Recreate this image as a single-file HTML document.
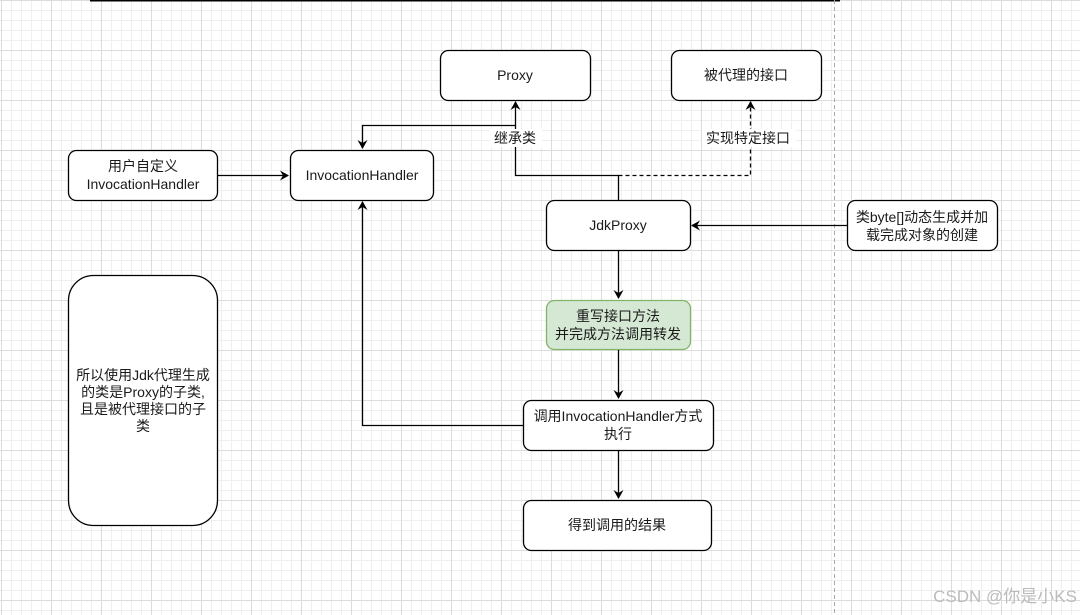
<!DOCTYPE html>
<html><head><meta charset="utf-8"><style>
body{margin:0;width:1080px;height:615px;overflow:hidden;background:#fff;}
.g{position:absolute;left:0;top:0;width:1080px;height:615px;
background-image:linear-gradient(#dcdcdc 1px,transparent 1px),linear-gradient(90deg,#dcdcdc 1px,transparent 1px),linear-gradient(#efefef 1px,transparent 1px),linear-gradient(90deg,#efefef 1px,transparent 1px);
background-size:50px 50px,50px 50px,10px 10px,10px 10px;background-position:0 0,1px 0,0 0,1px 0;}
svg{position:absolute;left:0;top:0;}
text{font-family:"Liberation Sans","Noto Sans CJK SC",sans-serif;font-size:14px;fill:#1a1a1a;text-anchor:middle;}
</style></head><body>
<div class="g"></div>
<svg width="1080" height="615" viewBox="0 0 1080 615">
<defs><marker id="a" markerWidth="10" markerHeight="10" refX="8" refY="5" orient="auto" markerUnits="userSpaceOnUse"><path d="M0,0 L9,5 L0,10 L3,5 Z" fill="#000"/></marker></defs>
<line x1="90" y1="0.5" x2="840" y2="0.5" stroke="#000" stroke-width="2"/>
<line x1="834.5" y1="0" x2="834.5" y2="615" stroke="#aaa" stroke-dasharray="4,3"/>
<g fill="#fff" stroke="#000" stroke-width="1.3">
<rect x="440.5" y="50.5" width="150" height="50" rx="8"/>
<rect x="671.5" y="50.5" width="150" height="50" rx="8"/>
<rect x="68.5" y="150.5" width="149" height="50" rx="8"/>
<rect x="290.5" y="150.5" width="143" height="50" rx="8"/>
<rect x="546.5" y="200.5" width="144" height="50" rx="8"/>
<rect x="847.5" y="200.5" width="150" height="50" rx="8"/>
<rect x="546.5" y="300.5" width="144" height="49" rx="8" fill="#d5e8d4" stroke="#82b366"/>
<rect x="523.5" y="400.5" width="190" height="50" rx="8"/>
<rect x="523.5" y="500.5" width="188" height="50" rx="8"/>
<rect x="68.5" y="275.5" width="149" height="250" rx="25"/>
</g>
<g fill="none" stroke="#000" stroke-width="1.3">
<path d="M618.5 200 V175.5 H515.5 V102" marker-end="url(#a)"/>
<path d="M515.5 125.5 H362.5 V148" marker-end="url(#a)"/>
<path d="M618.5 175.5 H750.5 V102" stroke-dasharray="4,3" marker-end="url(#a)"/>
<path d="M217 175.5 H288" marker-end="url(#a)"/>
<path d="M847 225.5 H692" marker-end="url(#a)"/>
<path d="M618.5 250 V298" marker-end="url(#a)"/>
<path d="M618.5 350 V398" marker-end="url(#a)"/>
<path d="M618.5 451 V498" marker-end="url(#a)"/>
<path d="M523 425.5 H362.5 V202" marker-end="url(#a)"/>
</g>
<rect x="490" y="129" width="52" height="18" fill="#fff"/>
<rect x="702" y="129" width="94" height="18" fill="#fff"/>
<text x="515" y="80">Proxy</text>
<text x="746" y="80">被代理的接口</text>
<text x="143" y="171">用户自定义</text>
<text x="143" y="189">InvocationHandler</text>
<text x="362" y="180">InvocationHandler</text>
<text x="618" y="230">JdkProxy</text>
<text x="922" y="222">类byte[]动态生成并加</text>
<text x="922" y="240">载完成对象的创建</text>
<text x="618" y="321">重写接口方法</text>
<text x="618" y="339">并完成方法调用转发</text>
<text x="618" y="421">调用InvocationHandler方式</text>
<text x="618" y="439">执行</text>
<text x="617" y="530">得到调用的结果</text>
<text x="515" y="143">继承类</text>
<text x="748" y="143">实现特定接口</text>
<text x="143" y="380">所以使用Jdk代理生成</text>
<text x="143" y="397">的类是Proxy的子类,</text>
<text x="143" y="414">且是被代理接口的子</text>
<text x="143" y="431">类</text>
<text x="1005" y="602" style="font-size:17px;fill:#bbb">CSDN @你是小KS</text>
</svg>
</body></html>
